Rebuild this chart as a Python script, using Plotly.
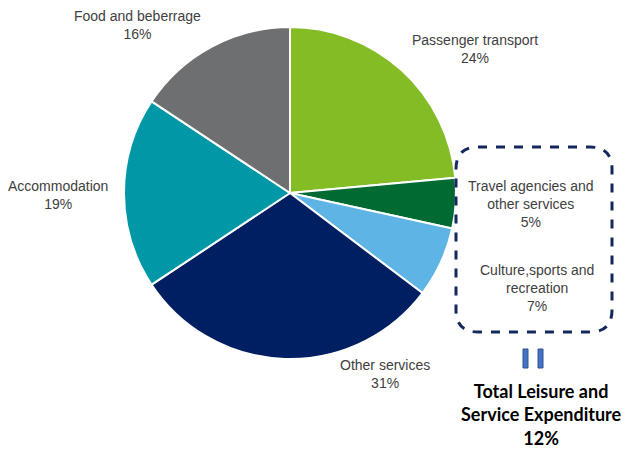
import plotly.graph_objects as go

categories = ["Passenger transport", "Travel agencies and<br>other services", "Culture,sports and<br>recreation",
              "Other services", "Accommodation", "Food and beberrage"]
values = [24, 5, 7, 31, 19, 16]
colors = ["#84BC26", "#006A33", "#5DB4E5", "#001E62", "#0097A6", "#6D6F71"]
summary_label = "Total Leisure and<br>Service Expenditure"
summary_value = 12

W, H = 623, 450
def px(x): return x / W
def py(y): return 1 - y / H

cx, cy, r = 290, 193, 166

fig = go.Figure(go.Pie(
    values=values, labels=categories, sort=False, direction="clockwise", rotation=0,
    marker=dict(colors=colors, line=dict(color="white", width=2)),
    textinfo="none", hoverinfo="label+percent", showlegend=False,
    domain=dict(x=[px(cx - r), px(cx + r)], y=[py(cy + r), py(cy - r)]),
))

label_pos = [(475, 49), (531, 204), (537, 288), (385, 374), (58, 195), (137, 25)]
for cat, v, (lx, ly) in zip(categories, values, label_pos):
    fig.add_annotation(x=px(lx), y=py(ly), xref="paper", yref="paper", showarrow=False,
                       xanchor="center", yanchor="middle",
                       text=f"{cat}<br>{v}%", align="center",
                       font=dict(family="Liberation Sans, Arial", size=14, color="#404040"))

fig.add_annotation(x=px(541), y=py(414), xref="paper", yref="paper", showarrow=False,
                   xanchor="center", yanchor="middle",
                   text=f"<b>{summary_label}<br>{summary_value}%</b>", align="center",
                   font=dict(family="Lato, Open Sans", size=18, color="#000000"))

# rounded dashed box
x0, x1, y0, y1, rr = 456, 612, 147, 332, 22
pts = [
    ("M", (x0 + rr, y0)), ("L", (x1 - rr, y0)), ("Q", (x1, y0), (x1, y0 + rr)),
    ("L", (x1, y1 - rr)), ("Q", (x1, y1), (x1 - rr, y1)), ("L", (x0 + rr, y1)),
    ("Q", (x0, y1), (x0, y1 - rr)), ("L", (x0, y0 + rr)), ("Q", (x0, y0), (x0 + rr, y0)),
]
path = ""
for cmd, *ps in pts:
    path += cmd + " " + " ".join(f"{px(a):.5f},{py(b):.5f}" for a, b in ps) + " "
path += "Z"
fig.add_shape(type="path", path=path, xref="paper", yref="paper",
              line=dict(color="#13295E", width=3, dash="dash"))

for bx in (523, 538):
    fig.add_shape(type="rect", xref="paper", yref="paper",
                  x0=px(bx), x1=px(bx + 5), y0=py(368), y1=py(349),
                  fillcolor="#4472C4", line=dict(color="#2F528F", width=1))

fig.update_layout(width=W, height=H, margin=dict(l=0, r=0, t=0, b=0),
                  paper_bgcolor="white", plot_bgcolor="white")
fig.write_html("out.html", config={"displayModeBar": False},
               post_script="document.body.style.margin='0';document.body.style.overflow='hidden';")
